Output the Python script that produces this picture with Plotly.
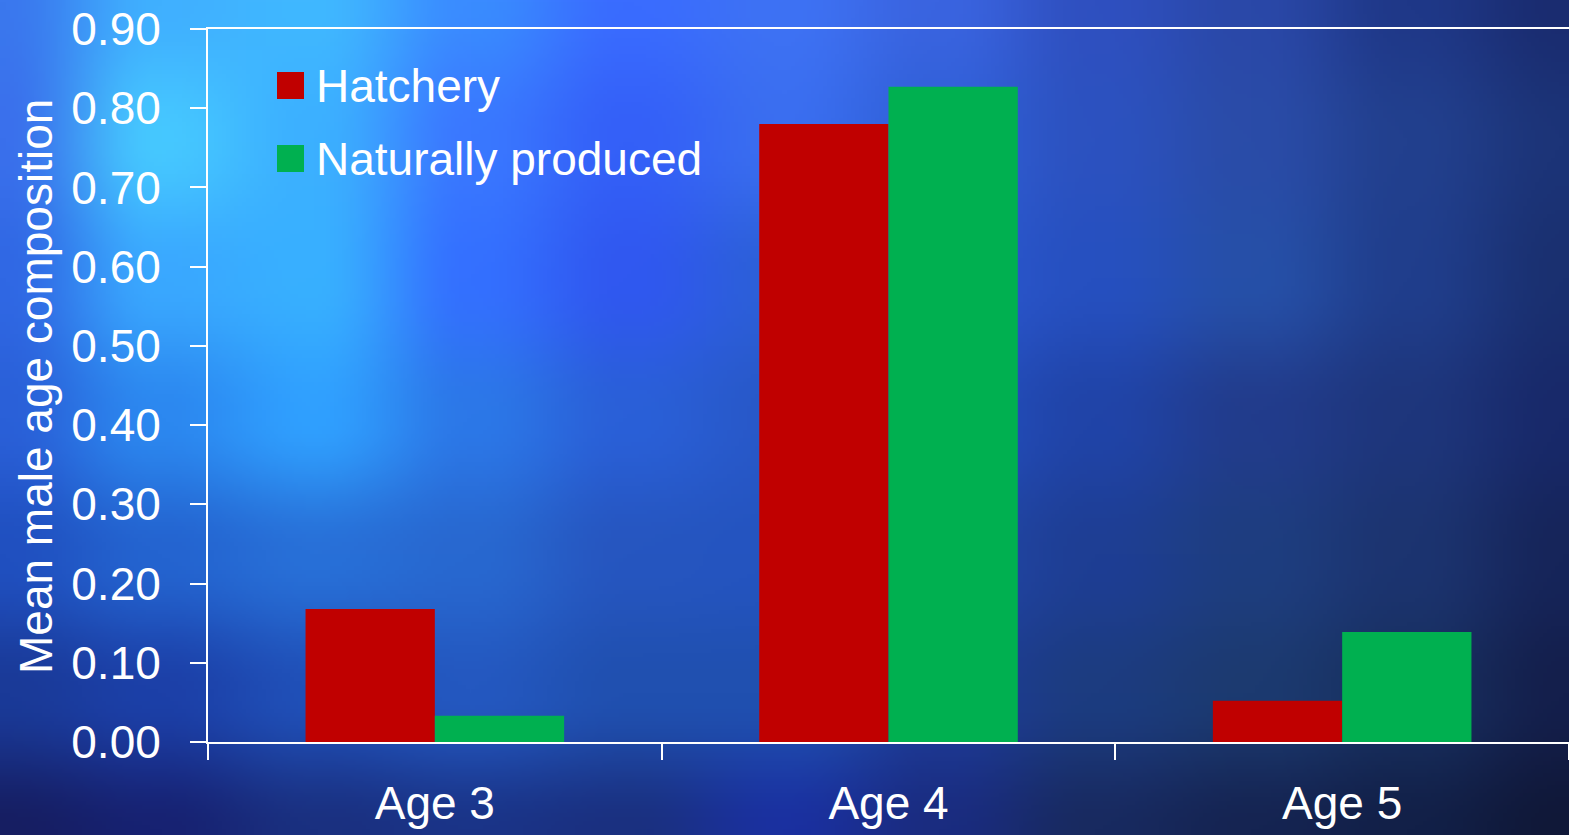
import base64
import struct
import zlib

import numpy as np
import plotly.graph_objects as go

categories = ["Age 3", "Age 4", "Age 5"]
hatchery = [0.168, 0.780, 0.052]
natural = [0.033, 0.827, 0.139]
series_names = ["Hatchery", "Naturally produced"]
series_colors = ["#c00000", "#00b050"]
y_title = "Mean male age composition"

W, H = 1569, 835
L, R, T, B = 208, 0, 29, 93
FONT = "Liberation Sans, Arial, sans-serif"

# coarse colour grid for the blurred blue backdrop (rows top->bottom)
bg_grid = [
    ["#3a78ee", "#40b0ff", "#40b8ff", "#3a8cff", "#3a6cff", "#3e72f4", "#3a64e0", "#2f50c0", "#2a48a8", "#1f3888", "#1a2c70"],
    ["#3a70ec", "#46c8ff", "#3cb0ff", "#3a78ff", "#3460f8", "#3a6ef0", "#3060d8", "#2c52c0", "#2a4ca8", "#22408e", "#1c3478"],
    ["#3068e4", "#3aa8ff", "#38b0ff", "#3470ff", "#3058f0", "#2c60d8", "#2c58d0", "#2650c0", "#2650a8", "#203e8c", "#1a3070"],
    ["#2a60d8", "#2c88f0", "#30a0ff", "#2c78e8", "#2a60d8", "#2858c8", "#2450c0", "#2044a8", "#223c8c", "#1e367c", "#18296a"],
    ["#2050c0", "#2464d0", "#2870d8", "#2868d0", "#2656c0", "#2454c0", "#2248a8", "#1e3e94", "#1e3e80", "#1c3470", "#16255a"],
    ["#1a3a98", "#1c40a8", "#2050b8", "#2458c0", "#2050b0", "#2050b0", "#1e3c98", "#1c3c80", "#1c3a70", "#183060", "#141f4c"],
    ["#161e62", "#172272", "#1a3080", "#1a3488", "#1a3080", "#1a30a0", "#1a2c80", "#182a60", "#152452", "#122048", "#101838"],
]


def hex_rgb(h):
    return [int(h[i:i + 2], 16) for i in (1, 3, 5)]


def background_png():
    g = np.array([[hex_rgb(c) for c in row] for row in bg_grid], dtype=float)
    gh, gw, _ = g.shape
    w, h = 392, 209
    ys = np.linspace(0, gh - 1, h)
    xs = np.linspace(0, gw - 1, w)
    y0 = np.clip(np.floor(ys).astype(int), 0, gh - 2)
    x0 = np.clip(np.floor(xs).astype(int), 0, gw - 2)
    fy = (1 - np.cos(np.pi * (ys - y0))) / 2
    fx = (1 - np.cos(np.pi * (xs - x0))) / 2
    a = g[y0][:, x0]
    b = g[y0][:, x0 + 1]
    c = g[y0 + 1][:, x0]
    d = g[y0 + 1][:, x0 + 1]
    fx = fx[None, :, None]
    fy = fy[:, None, None]
    img = (a * (1 - fx) + b * fx) * (1 - fy) + (c * (1 - fx) + d * fx) * fy
    img = np.clip(img, 0, 255).astype(np.uint8)
    raw = b"".join(b"\x00" + img[r].tobytes() for r in range(h))

    def chunk(tag, data):
        out = struct.pack(">I", len(data)) + tag + data
        return out + struct.pack(">I", zlib.crc32(tag + data) & 0xffffffff)

    png = b"\x89PNG\r\n\x1a\n"
    png += chunk(b"IHDR", struct.pack(">IIBBBBB", w, h, 8, 2, 0, 0, 0))
    png += chunk(b"IDAT", zlib.compress(raw, 9))
    png += chunk(b"IEND", b"")
    return "data:image/png;base64," + base64.b64encode(png).decode()


pw = W - L - R
ph = H - T - B


def px(x):
    return (x - L) / pw


def py(y):
    return (H - B - y) / ph


fig = go.Figure()
for name, vals, col in zip(series_names, [hatchery, natural], series_colors):
    fig.add_trace(go.Bar(x=categories, y=vals, name=name, marker_color=col,
                         marker_line_width=0, showlegend=False))

# hand-drawn legend, large squares like the original
for i, (name, col) in enumerate(zip(series_names, series_colors)):
    top = 72 + i * 73
    fig.add_shape(type="rect", xref="paper", yref="paper",
                  x0=px(277), x1=px(304), y0=py(top + 27), y1=py(top),
                  fillcolor=col, line_width=0)
    fig.add_annotation(text=name, xref="paper", yref="paper",
                       x=px(314), y=py(top + 14), xanchor="left", yanchor="middle",
                       showarrow=False, font=dict(size=46, color="white", family=FONT))

fig.add_annotation(text=y_title, xref="paper", yref="paper", x=px(36), y=py(387),
                   textangle=-90, showarrow=False, xanchor="center", yanchor="middle",
                   font=dict(size=46, color="white", family=FONT))

fig.add_layout_image(source=background_png(), xref="paper", yref="paper",
                     x=px(0), y=py(0), sizex=W / pw, sizey=H / ph,
                     xanchor="left", yanchor="top", sizing="stretch", layer="below")

fig.update_layout(
    width=W, height=H,
    margin=dict(l=L, r=R, t=T, b=B),
    paper_bgcolor="#1e3c9a", plot_bgcolor="rgba(0,0,0,0)",
    barmode="group", bargap=0.43, bargroupgap=0,
    font=dict(family=FONT, color="white", size=46),
    xaxis=dict(showline=True, linecolor="white", linewidth=2, mirror=True,
               ticks="outside", tickson="boundaries", ticklen=16, tickwidth=2,
               tickcolor="white", showgrid=False, ticklabelstandoff=20,
               tickfont=dict(size=46, color="white")),
    yaxis=dict(range=[0, 0.9], dtick=0.1, tickformat=".2f", showline=True,
               linecolor="white", linewidth=2, ticks="outside", ticklen=16,
               tickwidth=2, tickcolor="white", showgrid=False, zeroline=False,
               ticklabelstandoff=20, tickfont=dict(size=46, color="white")),
)

fig.write_html("out.html", config={"displayModeBar": False},
               post_script="document.body.style.margin='0';document.body.style.overflow='hidden';")
